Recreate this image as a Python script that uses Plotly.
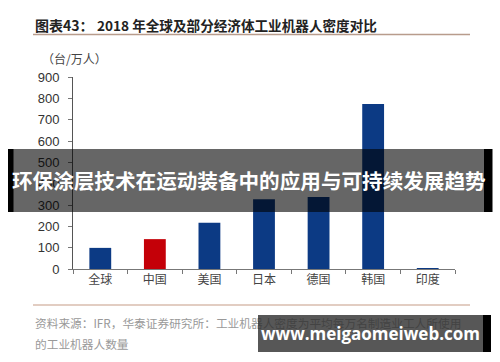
import plotly.graph_objects as go

categories = ["全球", "中国", "美国", "日本", "德国", "韩国", "印度"]
density = [99, 140, 217, 327, 338, 774, 4]
bar_colors = ["#0c3a84", "#c40008", "#0c3a84", "#0c3a84", "#0c3a84", "#0c3a84", "#0c3a84"]
y_ticks = [0, 100, 200, 300, 400, 500, 600, 700, 800, 900]

title_label = "图表43："
title_text = "2018 年全球及部分经济体工业机器人密度对比"
unit_text = "（台/万人）"
source_line1 = "资料来源：IFR，华泰证券研究所：工业机器人密度为平均每万名制造业工人所使用"
source_line2 = "的工业机器人数量"
banner_text = "环保涂层技术在运动装备中的应用与可持续发展趋势"
watermark_text = "www.meigaomeiweb.com"

L, R, T, B = 73, 45, 77, 93
W, H = 500 - L - R, 362 - T - B


def px(x):
    return (x - L) / W


def py(y):
    return (362 - B - y) / H


CJK = "Noto Sans CJK SC"

fig = go.Figure(go.Bar(x=categories, y=density, marker_color=bar_colors, marker_line_width=0,
                       hoverinfo="skip"))

fig.update_layout(
    width=500, height=362,
    margin=dict(l=L, r=R, t=T, b=B),
    paper_bgcolor="white", plot_bgcolor="white",
    bargap=0.6, showlegend=False,
    font=dict(family="Liberation Sans, Arial", color="#333"),
)
fig.update_xaxes(
    showline=True, linecolor="#777", linewidth=1,
    ticks="outside", tickson="boundaries", ticklen=4, tickcolor="#777",
    tickfont=dict(family=CJK, size=12, color="#444"), showgrid=False,
)
fig.update_yaxes(
    range=[0, 900], tickvals=y_ticks, showline=True, linecolor="#555", linewidth=1,
    ticks="outside", ticklen=4, tickcolor="#777", showgrid=False, zeroline=False,
    tickfont=dict(size=13, color="#333"), ticklabelstandoff=6,
)

ann = []
ann.append(dict(text=f"<b>{title_label}</b>", x=px(33), y=py(25), xanchor="left", yanchor="middle",
                font=dict(family=CJK, size=14, color="#222")))
ann.append(dict(text=f"<b>{title_text}</b>", x=px(95), y=py(25), xanchor="left", yanchor="middle",
                font=dict(family=CJK, size=13.6, color="#222")))
ann.append(dict(text=unit_text, x=px(40), y=py(58), xanchor="left", yanchor="middle",
                font=dict(family=CJK, size=12, color="#444")))
ann.append(dict(text=source_line1, x=px(33), y=py(322), xanchor="left", yanchor="middle",
                font=dict(family=CJK, size=11.7, color="#999")))
ann.append(dict(text=source_line2, x=px(33), y=py(343), xanchor="left", yanchor="middle",
                font=dict(family=CJK, size=11.7, color="#999")))
ann.append(dict(text=f"<b>{banner_text}</b>", x=px(249), y=py(180), xanchor="center", yanchor="middle",
                font=dict(family=CJK, size=20.6, color="white")))
ann.append(dict(text=f"<b>{watermark_text}</b>", x=px(258), y=py(315), xanchor="left", yanchor="top",
                width=225, height=37, borderpad=0, borderwidth=0, bgcolor="rgba(45,45,45,0.8)",
                align="center", valign="middle",
                font=dict(family="Open Sans", size=17, color="white")))
for a in ann:
    a.update(xref="paper", yref="paper", showarrow=False)
fig.update_layout(annotations=ann)

shapes = [
    dict(type="line", x0=px(33), x1=px(470), y0=py(34.5), y1=py(34.5), line=dict(color="#b89c8c", width=1.5)),
    dict(type="line", x0=px(33), x1=px(470), y0=py(305), y1=py(305), line=dict(color="#d8bcae", width=1.5)),
    dict(type="rect", x0=px(13), x1=px(484), y0=py(212), y1=py(149), fillcolor="rgba(0,0,0,0.6)", line_width=0),
    dict(type="rect", x0=px(8), x1=px(13.5), y0=py(212), y1=py(149), fillcolor="black", line_width=0),
    dict(type="rect", x0=px(484), x1=px(492.5), y0=py(212), y1=py(149), fillcolor="black", line_width=0),
    dict(type="rect", x0=px(483), x1=px(491), y0=py(352), y1=py(315), fillcolor="black", line_width=0),
]
for s in shapes:
    s.update(xref="paper", yref="paper", layer="above")
fig.update_layout(shapes=shapes)

fig.write_html("out.html", config={"displayModeBar": False},
               post_script="document.body.style.margin='0';")
